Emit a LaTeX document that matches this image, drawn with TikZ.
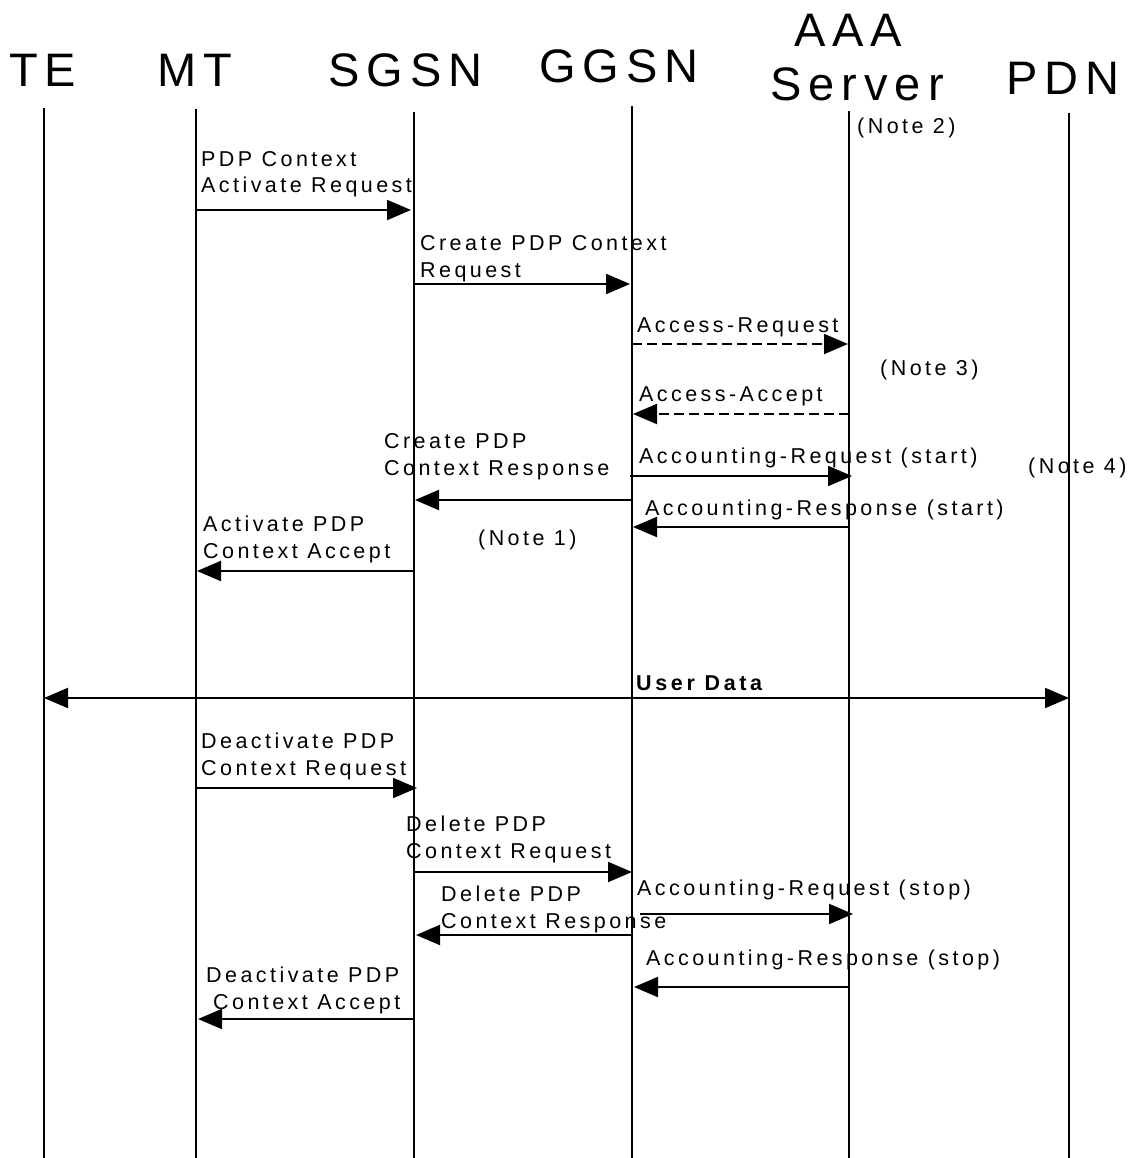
\documentclass[tikz,border=0pt]{standalone}
\usepackage{fontspec}
\setmainfont{Liberation Sans}
\newfontfamily\lblfont{Liberation Sans}[LetterSpace=16]
\newfontfamily\hdrfont{Liberation Sans}[LetterSpace=15]
\newfontfamily\udfont{Liberation Sans Bold}[LetterSpace=17]
\usetikzlibrary{arrows.meta}
\tikzset{
  life/.style={line width=2pt},
  msg/.style={line width=2pt,-{Triangle[length=24pt,width=20pt]}},
  dmsg/.style={msg,dash pattern=on 10pt off 5pt},
  lbl/.style={font=\lblfont\fontsize{21.5}{26.5}\selectfont,inner sep=0pt,align=left,anchor=base west},
  hdr/.style={font=\hdrfont\fontsize{47}{50}\selectfont,inner sep=0pt,anchor=base west},
  udlbl/.style={font=\udfont\fontsize{21.5}{24}\selectfont,inner sep=0pt,anchor=base west}
}
\begin{document}
\begin{tikzpicture}[x=1pt,y=-1pt]
\useasboundingbox (0,0) rectangle (1134,1158);
\fill[white] (0,0) rectangle (1134,1158);
% headers
\node[hdr] (hTE) at (9,87) {TE};
\node[hdr] (hMT) at (157,87) {MT};
\node[hdr] (hSGSN) at (328,87) {SGSN};
\node[hdr] (hGGSN) at (539,83) {GGSN};
\node[hdr] (hAAA) at (794,47) {AAA};
\node[hdr] (hServer) at (770,101) {Server};
\node[hdr] (hPDN) at (1006,95) {PDN};
% lifelines
\coordinate (TE) at (44,108);   \coordinate (TEb) at (44,1158);
\coordinate (MT) at (196,109);  \coordinate (MTb) at (196,1158);
\coordinate (SGSN) at (414,112); \coordinate (SGSNb) at (414,1158);
\coordinate (GGSN) at (632,106); \coordinate (GGSNb) at (632,1158);
\coordinate (AAA) at (849,111);  \coordinate (AAAb) at (849,1158);
\coordinate (PDN) at (1069,113); \coordinate (PDNb) at (1069,1158);
\foreach \l in {TE,MT,SGSN,GGSN,AAA,PDN} \draw[life] (\l) -- (\l b);
% rows
\coordinate (r1) at (0,210);
\coordinate (r2) at (0,284);
\coordinate (r3) at (0,344);
\coordinate (r4) at (0,414);
\coordinate (r5) at (0,476);
\coordinate (r6) at (0,527);
\coordinate (r7) at (0,500);
\coordinate (r8) at (0,571);
\coordinate (r9) at (0,698);
\coordinate (r10) at (0,788);
\coordinate (r11) at (0,872);
\coordinate (r12) at (0,914);
\coordinate (r13) at (0,935);
\coordinate (r14) at (0,987);
\coordinate (r15) at (0,1019);
% messages (two-line labels are placed by the baseline of their last line)
\draw[msg,shorten >=3pt] (MT|-r1) -- (SGSN|-r1);
\node[lbl] (l1) at (201,193) {PDP Context\\Activate Request};
\draw[msg,shorten >=2pt] (SGSN|-r2) -- (GGSN|-r2);
\node[lbl] (l2) at (420,277) {Create PDP Context\\Request};
\draw[dmsg,shorten >=1pt] (GGSN|-r3) -- (AAA|-r3);
\node[lbl] (l3) at (637,332) {Access-Request};
\draw[dmsg,shorten >=1pt] (AAA|-r4) -- (GGSN|-r4);
\node[lbl] (l4) at (639,401) {Access-Accept};
\draw[msg,shorten <=-2pt,shorten >=-3pt] (GGSN|-r5) -- (AAA|-r5);
\node[lbl] (l5) at (639,463) {Accounting-Request (start)};
\draw[msg,shorten >=1pt] (AAA|-r6) -- (GGSN|-r6);
\node[lbl] (l6) at (645,515) {Accounting-Response (start)};
\draw[msg,shorten >=1pt] (GGSN|-r7) -- (SGSN|-r7);
\node[lbl] (l7) at (384,475) {Create PDP\\Context Response};
\draw[msg,shorten >=1pt] (SGSN|-r8) -- (MT|-r8);
\node[lbl] (l8) at (203,558) {Activate PDP\\Context Accept};
% notes
\node[lbl] (n1) at (478,545) {(Note 1)};
\node[lbl] (n2) at (857,134) {(Note 2)};
\node[lbl] (n3) at (880,375) {(Note 3)};
\node[lbl] (n4) at (1028,473) {(Note 4)};
% user data
\draw[line width=2pt,{Triangle[length=24pt,width=20pt]}-{Triangle[length=24pt,width=20pt]}] (TE|-r9) -- (PDN|-r9);
\node[udlbl] (ud) at (636,690) {User Data};
% release
\draw[msg,shorten >=-3pt] (MT|-r10) -- (SGSN|-r10);
\node[lbl] (l10) at (201,775) {Deactivate PDP\\Context Request};
\draw[msg] (SGSN|-r11) -- (GGSN|-r11);
\node[lbl] (l11) at (406,858) {Delete PDP\\Context Request};
\draw[msg,shorten <=8pt,shorten >=-4pt] (GGSN|-r12) -- (AAA|-r12);
\node[lbl] (l12) at (637,895) {Accounting-Request (stop)};
\draw[msg,shorten >=2pt] (GGSN|-r13) -- (SGSN|-r13);
\node[lbl] (l13) at (441,928) {Delete PDP\\Context Response};
\draw[msg,shorten >=2pt] (AAA|-r14) -- (GGSN|-r14);
\node[lbl] (l14) at (646,965) {Accounting-Response (stop)};
\draw[msg,shorten >=2pt] (SGSN|-r15) -- (MT|-r15);
\node[lbl] (l15) at (206,1009) {Deactivate PDP\\\hspace*{7pt}Context Accept};
\end{tikzpicture}
\end{document}
